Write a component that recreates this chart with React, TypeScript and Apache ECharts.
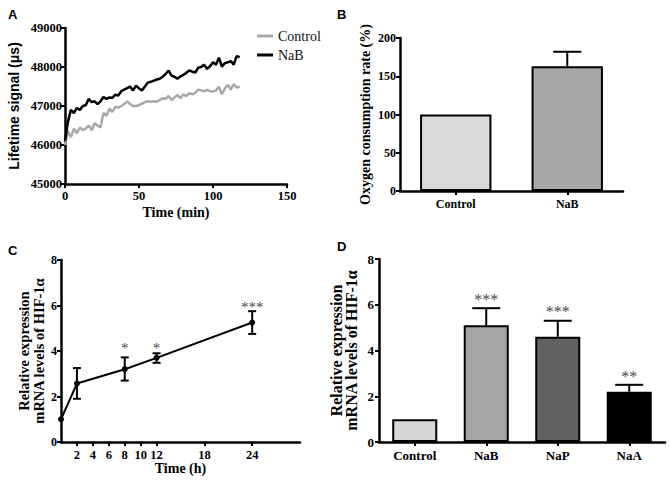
import React, { useEffect, useRef } from "react";
import * as echarts from "echarts";

// ---------- Panel A: lifetime signal ----------
const timesA = [0, 2, 4, 6, 8, 10, 12, 14, 16, 18, 20, 22, 24, 26, 28, 30, 32, 34, 36, 38, 40, 42, 44, 46, 48, 50, 52, 54, 56, 58, 60, 62, 64, 66, 68, 70, 72, 74, 76, 78, 80, 82, 84, 86, 88, 90, 92, 94, 96, 98, 100, 102, 104, 106, 108, 110, 112, 114, 116, 118];
const controlA = [46000, 46350, 46200, 46420, 46300, 46450, 46380, 46420, 46500, 46380, 46560, 46500, 46450, 46820, 46750, 46930, 46850, 46980, 46960, 47000, 47050, 47120, 47050, 47000, 47000, 47020, 47060, 47100, 47120, 47110, 47120, 47110, 47150, 47200, 47180, 47260, 47150, 47220, 47280, 47200, 47300, 47250, 47330, 47300, 47340, 47420, 47400, 47380, 47410, 47380, 47370, 47400, 47490, 47300, 47450, 47540, 47420, 47560, 47470, 47500];
const nabA = [46100, 46600, 46900, 46820, 46950, 46900, 47000, 47020, 47180, 47100, 47120, 47050, 47120, 47230, 47180, 47220, 47210, 47290, 47270, 47380, 47420, 47460, 47500, 47400, 47520, 47450, 47400, 47500, 47600, 47620, 47650, 47680, 47700, 47750, 47820, 47910, 47780, 47750, 47700, 47760, 47800, 47850, 47910, 47880, 47860, 47980, 48000, 48060, 47950, 48020, 48120, 48060, 48240, 48010, 48100, 48120, 48150, 48060, 48280, 48250];

// ---------- Panel B: oxygen consumption ----------
const catsB = ["Control", "NaB"];
const valuesB = [100, 163];
const errTopB = [100, 182];
const colorsB = ["#d9d9d9", "#a7a7a9"];

// ---------- Panel C: HIF-1α time course ----------
const timesC = [0, 2, 8, 12, 24];
const valuesC = [1, 2.57, 3.2, 3.7, 5.25];
const errLowC = [1, 1.9, 2.7, 3.48, 4.75];
const errHighC = [1, 3.25, 3.72, 3.9, 5.75];
const starTextC = ["", "", "*", "*", "***"];
const starYC = [0, 0, 4.15, 4.15, 5.95];
const tickValuesC = [2, 4, 6, 8, 10, 12, 18, 24];

// ---------- Panel D: HIF-1α by treatment ----------
const catsD = ["Control", "NaB", "NaP", "NaA"];
const valuesD = [1, 5.1, 4.6, 2.2];
const errTopD = [1, 5.85, 5.3, 2.5];
const colorsD = ["#d6d6d6", "#a5a5a7", "#616161", "#000000"];
const starTextD = ["", "***", "***", "**"];
const starYD = [0, 6.25, 5.7, 2.85];

const SERIF = "'Liberation Serif', 'Times New Roman', serif";
const SANS = "'Liberation Sans', Arial, sans-serif";

const axisLineStyle = { lineStyle: { color: "#000", width: 2.5 } };
const axisTickStyle = { show: true, length: 4, lineStyle: { color: "#000", width: 2 } };
const labelStyle = { color: "#000", fontFamily: SERIF, fontWeight: "bold" as const, fontSize: 12 };

function errRender(lows: number[], highs: number[], cap: number, bothCaps: boolean) {
  return (params: any, api: any) => {
    const i = params.dataIndex;
    const x = api.value(0);
    const pLo = api.coord([x, lows[i]]);
    const pHi = api.coord([x, highs[i]]);
    if (highs[i] === lows[i]) return { type: "group", children: [] };
    const style = { stroke: "#000", lineWidth: 2 };
    const children: any[] = [
      { type: "line", shape: { x1: pLo[0], y1: pLo[1], x2: pHi[0], y2: pHi[1] }, style },
      { type: "line", shape: { x1: pHi[0] - cap, y1: pHi[1], x2: pHi[0] + cap, y2: pHi[1] }, style },
    ];
    if (bothCaps) {
      children.push({ type: "line", shape: { x1: pLo[0] - cap, y1: pLo[1], x2: pLo[0] + cap, y2: pLo[1] }, style });
    }
    return { type: "group", children };
  };
}

function starRender(texts: string[], ys: number[], size: number) {
  return (params: any, api: any) => {
    const i = params.dataIndex;
    if (!texts[i]) return { type: "group", children: [] };
    const p = api.coord([api.value(0), ys[i]]);
    return {
      type: "text",
      x: p[0],
      y: p[1],
      style: {
        text: texts[i],
        fill: "#4a4a4a",
        font: `${size}px ${SERIF}`,
        align: "center",
        verticalAlign: "middle",
      },
    };
  };
}

export default function App() {
  const ref = useRef<HTMLDivElement>(null);
  useEffect(() => {
    if (!ref.current) return;
    const chart = echarts.init(ref.current, null, { renderer: "svg" });
    const titleStyle = { fontFamily: SANS, fontWeight: "bold", fontSize: 13, color: "#000" };
    const option: any = {
      animation: false,
      backgroundColor: "#fff",
      title: [
        { text: "A", left: 3, top: 3, textStyle: titleStyle },
        { text: "B", left: 332, top: 3, textStyle: titleStyle },
        { text: "C", left: 3, top: 239, textStyle: titleStyle },
        { text: "D", left: 332, top: 235, textStyle: titleStyle },
      ],
      legend: {
        data: [
          { name: "Control", icon: "rect" },
          { name: "NaB", icon: "rect" },
        ],
        orient: "vertical",
        left: 252,
        top: 24,
        itemWidth: 16,
        itemHeight: 3,
        itemGap: 5,
        textStyle: { fontFamily: SERIF, fontSize: 14, color: "#111" },
      },
      grid: [
        { left: 65, top: 28, width: 222, height: 156 },
        { left: 400, top: 38, width: 223, height: 153 },
        { left: 61, top: 260, width: 239, height: 182 },
        { left: 379, top: 259, width: 286, height: 183 },
      ],
      xAxis: [
        {
          gridIndex: 0, type: "value", min: 0, max: 150, interval: 50,
          axisLine: axisLineStyle, axisTick: axisTickStyle, splitLine: { show: false },
          axisLabel: { ...labelStyle, fontSize: 12.5, margin: 5 },
          name: "Time (min)", nameLocation: "middle", nameGap: 21,
          nameTextStyle: { fontFamily: SERIF, fontWeight: "bold", fontSize: 14, color: "#000" },
        },
        {
          gridIndex: 1, type: "category", data: catsB,
          axisLine: axisLineStyle, axisTick: { ...axisTickStyle, alignWithLabel: true },
          axisLabel: { ...labelStyle, fontSize: 12, margin: 7 },
        },
        {
          gridIndex: 2, type: "value", min: 0, max: 30,
          axisLine: axisLineStyle,
          axisTick: { ...axisTickStyle, customValues: tickValuesC },
          axisLabel: { ...labelStyle, fontSize: 12.5, margin: 6, customValues: tickValuesC },
          splitLine: { show: false },
          name: "Time (h)", nameLocation: "middle", nameGap: 19,
          nameTextStyle: { fontFamily: SERIF, fontWeight: "bold", fontSize: 14, color: "#000" },
        },
        {
          gridIndex: 3, type: "category", data: catsD,
          axisLine: axisLineStyle, axisTick: { ...axisTickStyle, alignWithLabel: true },
          axisLabel: { ...labelStyle, fontSize: 13, margin: 7 },
        },
      ],
      yAxis: [
        {
          gridIndex: 0, type: "value", min: 45000, max: 49000, interval: 1000,
          axisLine: { show: true, ...axisLineStyle }, axisTick: axisTickStyle, splitLine: { show: false },
          axisLabel: { ...labelStyle, fontSize: 12.5, margin: 3, formatter: (v: number) => String(v) },
          name: "Lifetime signal (μs)", nameLocation: "middle", nameGap: 44,
          nameTextStyle: { fontFamily: SANS, fontWeight: "bold", fontSize: 14, color: "#000" },
        },
        {
          gridIndex: 1, type: "value", min: 0, max: 200, interval: 50,
          axisLine: { show: true, ...axisLineStyle }, axisTick: axisTickStyle, splitLine: { show: false },
          axisLabel: { ...labelStyle, margin: 4 },
          name: "Oxygen consumption rate (%)", nameLocation: "middle", nameGap: 28,
          nameTextStyle: { fontFamily: SERIF, fontWeight: "bold", fontSize: 14, color: "#000" },
        },
        {
          gridIndex: 2, type: "value", min: 0, max: 8, interval: 2,
          axisLine: { show: true, ...axisLineStyle }, axisTick: axisTickStyle, splitLine: { show: false },
          axisLabel: { ...labelStyle, margin: 4 },
          name: "Relative expression\nmRNA levels of HIF-1α", nameLocation: "middle", nameGap: 15,
          nameTextStyle: { fontFamily: SERIF, fontWeight: "bold", fontSize: 14.5, color: "#000", lineHeight: 15 },
        },
        {
          gridIndex: 3, type: "value", min: 0, max: 8, interval: 2,
          axisLine: { show: true, ...axisLineStyle }, axisTick: axisTickStyle, splitLine: { show: false },
          axisLabel: { ...labelStyle, fontSize: 13, margin: 5 },
          name: "Relative expression\nmRNA levels of HIF-1α", nameLocation: "middle", nameGap: 20,
          nameTextStyle: { fontFamily: SERIF, fontWeight: "bold", fontSize: 16, color: "#000", lineHeight: 15 },
        },
      ],
      series: [
        {
          name: "Control", type: "line", xAxisIndex: 0, yAxisIndex: 0,
          data: timesA.map((t, i) => [t, controlA[i]]),
          showSymbol: false, color: "#a8a8a8", lineStyle: { width: 2.5, color: "#a8a8a8" },
        },
        {
          name: "NaB", type: "line", xAxisIndex: 0, yAxisIndex: 0,
          data: timesA.map((t, i) => [t, nabA[i]]),
          showSymbol: false, color: "#000", lineStyle: { width: 2.5, color: "#000" },
        },
        {
          type: "custom", xAxisIndex: 1, yAxisIndex: 1, z: 1,
          data: catsB.map((_, i) => [i, errTopB[i]]),
          renderItem: errRender(valuesB, errTopB, 14, false),
        },
        {
          type: "bar", xAxisIndex: 1, yAxisIndex: 1, barWidth: "64%", z: 2,
          data: valuesB.map((v, i) => ({ value: v, itemStyle: { color: colorsB[i] } })),
          itemStyle: { borderColor: "#000", borderWidth: 2 },
        },
        {
          type: "custom", xAxisIndex: 2, yAxisIndex: 2,
          data: timesC.map((t, i) => [t, errHighC[i]]),
          renderItem: errRender(errLowC, errHighC, 4, true),
        },
        {
          type: "line", xAxisIndex: 2, yAxisIndex: 2,
          data: timesC.map((t, i) => [t, valuesC[i]]),
          symbol: "circle", symbolSize: 6, color: "#000",
          lineStyle: { width: 2, color: "#000" }, itemStyle: { color: "#000" },
        },
        {
          type: "custom", xAxisIndex: 2, yAxisIndex: 2,
          data: timesC.map((t, i) => [t, starYC[i]]),
          renderItem: starRender(starTextC, starYC, 15),
        },
        {
          type: "custom", xAxisIndex: 3, yAxisIndex: 3, z: 1,
          data: catsD.map((_, i) => [i, errTopD[i]]),
          renderItem: errRender(valuesD, errTopD, 14, false),
        },
        {
          type: "bar", xAxisIndex: 3, yAxisIndex: 3, barWidth: "63%", z: 2,
          data: valuesD.map((v, i) => ({ value: v, itemStyle: { color: colorsD[i] } })),
          itemStyle: { borderColor: "#000", borderWidth: 2 },
        },
        {
          type: "custom", xAxisIndex: 3, yAxisIndex: 3,
          data: catsD.map((_, i) => [i, starYD[i]]),
          renderItem: starRender(starTextD, starYD, 16),
        },
      ],
    };
    chart.setOption(option);
    return () => chart.dispose();
  }, []);
  return (
    <div
      ref={ref}
      style={{ position: "fixed", left: 0, top: 0, width: 669, height: 482, background: "#fff" }}
    />
  );
}
